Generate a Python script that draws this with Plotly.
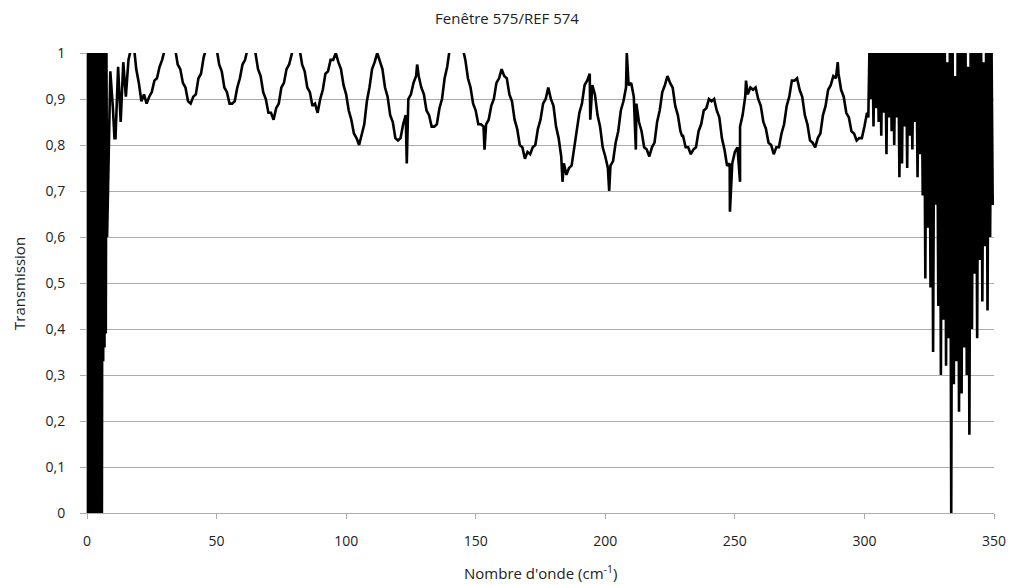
import plotly.graph_objects as go

# ---------------- data ----------------
# noisy start 0 .. 7.75 cm-1, step 0.25
low_x = [i * 0.25 for i in range(32)]
low_t = [1.05, 0.0, 1.05, 0.0, 1.05, 0.0, 1.05, 0.0, 1.05, 0.0,
         1.05, 0.0, 1.05, 0.0, 1.05, 0.0, 1.05, 0.0, 1.05, 0.0,
         1.05, 0.0, 1.05, 0.0, 1.05, 0.33, 1.05, 0.36, 1.04, 0.39,
         1.0, 0.6]

# main part 8 .. 301 cm-1, step 1
main_t = [
    0.67, 0.96,
    0.88, 0.815, 0.97, 0.85, 0.98, 0.905, 0.985, 1.01, 1.02, 0.965,
    0.935, 0.895, 0.91, 0.89, 0.905, 0.915, 0.94, 0.945, 0.97, 0.985,
    1.01, 1.03, 1.04, 1.03, 1.01, 0.975, 0.965, 0.935, 0.925, 0.895,
    0.89, 0.905, 0.91, 0.945, 0.955, 0.99, 1.01, 1.03, 1.04, 1.03,
    1.01, 0.975, 0.96, 0.925, 0.915, 0.89, 0.89, 0.895, 0.925, 0.945,
    0.975, 0.985, 1.01, 1.03, 1.02, 1.0, 0.965, 0.95, 0.915, 0.9,
    0.87, 0.87, 0.855, 0.88, 0.89, 0.925, 0.935, 0.965, 0.975, 1.0,
    1.02, 1.02, 1.01, 0.975, 0.96, 0.925, 0.915, 0.885, 0.89, 0.87,
    0.9, 0.92, 0.955, 0.96, 0.985, 0.985, 1.0, 0.98, 0.965, 0.93,
    0.91, 0.875, 0.855, 0.825, 0.815, 0.8, 0.825, 0.845, 0.895, 0.925,
    0.965, 0.98, 1.0, 0.98, 0.965, 0.925, 0.905, 0.865, 0.85, 0.815,
    0.81, 0.815, 0.845, 0.865, 0.9, 0.91, 0.935, 0.95, 0.95, 0.925,
    0.91, 0.875, 0.865, 0.84, 0.84, 0.845, 0.88, 0.9, 0.945, 0.97,
    1.01, 1.03, 1.04, 1.04, 1.03, 1.01, 0.985, 0.945, 0.925, 0.89,
    0.875, 0.845, 0.845, 0.84, 0.845, 0.855, 0.885, 0.9, 0.935, 0.945,
    0.965, 0.95, 0.945, 0.91, 0.895, 0.855, 0.835, 0.8, 0.795, 0.77,
    0.785, 0.78, 0.795, 0.8, 0.835, 0.855, 0.89, 0.9, 0.925, 0.9,
    0.885, 0.84, 0.815, 0.775, 0.76, 0.735, 0.75, 0.755, 0.795, 0.825,
    0.87, 0.89, 0.93, 0.94, 0.955, 0.93, 0.91, 0.865, 0.84, 0.795,
    0.775, 0.75, 0.755, 0.765, 0.805, 0.83, 0.875, 0.895, 0.925, 0.93,
    0.935, 0.905, 0.89, 0.85, 0.83, 0.795, 0.79, 0.775, 0.795, 0.805,
    0.85, 0.875, 0.915, 0.93, 0.95, 0.935, 0.925, 0.885, 0.865, 0.83,
    0.82, 0.795, 0.795, 0.78, 0.79, 0.795, 0.83, 0.845, 0.875, 0.88,
    0.9, 0.895, 0.9, 0.875, 0.86, 0.815, 0.79, 0.755, 0.76, 0.76,
    0.785, 0.795, 0.84, 0.865, 0.905, 0.91, 0.925, 0.92, 0.925, 0.9,
    0.885, 0.85, 0.835, 0.805, 0.8, 0.78, 0.795, 0.795, 0.825, 0.845,
    0.885, 0.905, 0.94, 0.94, 0.945, 0.92, 0.905, 0.865, 0.845, 0.81,
    0.805, 0.795, 0.815, 0.825, 0.865, 0.885, 0.92, 0.93, 0.95, 0.945,
    0.955, 0.92, 0.905, 0.87, 0.86, 0.83, 0.825, 0.81, 0.815, 0.815,
    0.84, 0.87,
]
main_x = list(range(8, 8 + len(main_t)))

# isolated spikes in the main part
spike_x = [10.6, 123.4, 127.4, 153.4, 183.5, 194.2, 201.5, 208.3, 211.8,
           229.6, 248.1, 252.0, 254.3, 289.7]
spike_t = [0.815, 0.76, 0.975, 0.79, 0.72, 0.855, 0.70, 1.0, 0.79,
           0.82, 0.655, 0.72, 0.94, 0.98]

# noisy end 301.5 .. 350 cm-1 : lower excursions (half steps) and upper ones (integers)
hi_bot = [0.86, 0.90, 0.84, 0.88, 0.85, 0.82, 0.87, 0.78, 0.86, 0.83,
          0.80, 0.86, 0.73, 0.76, 0.84, 0.75, 0.82, 0.79, 0.85, 0.73,
          0.78, 0.69, 0.51, 0.62, 0.49, 0.35, 0.67, 0.45, 0.30, 0.42,
          0.32, 0.38, 0.00, 0.28, 0.33, 0.22, 0.26, 0.36, 0.30, 0.17,
          0.40, 0.52, 0.38, 0.55, 0.46, 0.58, 0.44, 0.60, 0.67]
hi_top = [1.03, 1.05, 1.05, 1.04, 1.05, 1.05, 1.03, 1.05, 1.05, 1.04,
          1.05, 1.05, 1.02, 1.05, 1.05, 1.05, 1.04, 1.05, 1.05, 1.05,
          1.05, 1.04, 1.05, 1.05, 1.05, 1.03, 1.05, 1.05, 1.05, 1.04,
          0.98, 1.05, 1.05, 0.95, 1.05, 1.05, 1.02, 1.05, 0.97, 1.05,
          1.05, 1.04, 1.05, 1.05, 0.98, 1.05, 1.05, 1.05, 0.69]

x_ticks = [0, 50, 100, 150, 200, 250, 300, 350]
y_ticks = [0, 0.1, 0.2, 0.3, 0.4, 0.5, 0.6, 0.7, 0.8, 0.9, 1]

# ---------------- assemble the series ----------------
mid = sorted(zip(main_x + spike_x, main_t + spike_t))
hi_x, hi_t = [], []
for k in range(len(hi_bot)):
    hi_x += [301.5 + k, 302 + k]
    hi_t += [hi_bot[k], hi_top[k]]

xs = low_x + [p[0] for p in mid] + hi_x
ys = low_t + [p[1] for p in mid] + hi_t

FONT = "Open Sans"
GRID = "#ababab"
TXT = "#222222"

fig = go.Figure()
fig.add_trace(go.Scatter(x=xs, y=ys, mode="lines",
                         line=dict(color="black", width=2.6),
                         showlegend=False, hoverinfo="skip"))

fig.update_layout(
    width=1014, height=585,
    margin=dict(l=87, r=20, t=53, b=72, autoexpand=False),
    paper_bgcolor="white", plot_bgcolor="white",
    separators=", ",
    font=dict(family=FONT, size=14, color=TXT),
    title=dict(text="Fenêtre 575/REF 574", x=0.5, xanchor="center",
               y=1 - 19 / 585, yanchor="middle", yref="container",
               font=dict(family=FONT, size=15, color=TXT)),
    xaxis=dict(range=[0, 350], tickvals=x_ticks, showgrid=False,
               zeroline=False, showline=True, linecolor=GRID, linewidth=1,
               ticks="outside", ticklen=5, tickcolor=GRID,
               ticklabelstandoff=10, tickfont=dict(size=14)),
    yaxis=dict(range=[0, 1], tickvals=y_ticks, tickformat="~g",
               showgrid=True, gridcolor=GRID, gridwidth=1,
               zeroline=False, showline=True, linecolor=GRID, linewidth=1,
               ticks="outside", ticklen=6, tickcolor=GRID,
               ticklabelstandoff=12, tickfont=dict(size=14)),
    annotations=[
        dict(text="Nombre d'onde (cm<sup>-1</sup>)", xref="paper", yref="paper",
             x=0.5, y=-0.13, xanchor="center", yanchor="middle",
             showarrow=False, font=dict(family=FONT, size=15, color=TXT)),
        dict(text="Transmission", xref="paper", yref="paper",
             x=-0.075, y=0.5, xanchor="center", yanchor="middle",
             textangle=-90, showarrow=False,
             font=dict(family=FONT, size=15, color=TXT)),
    ],
)

fig.write_html("out.html", config={"displayModeBar": False},
               post_script="document.body.style.margin='0';")
